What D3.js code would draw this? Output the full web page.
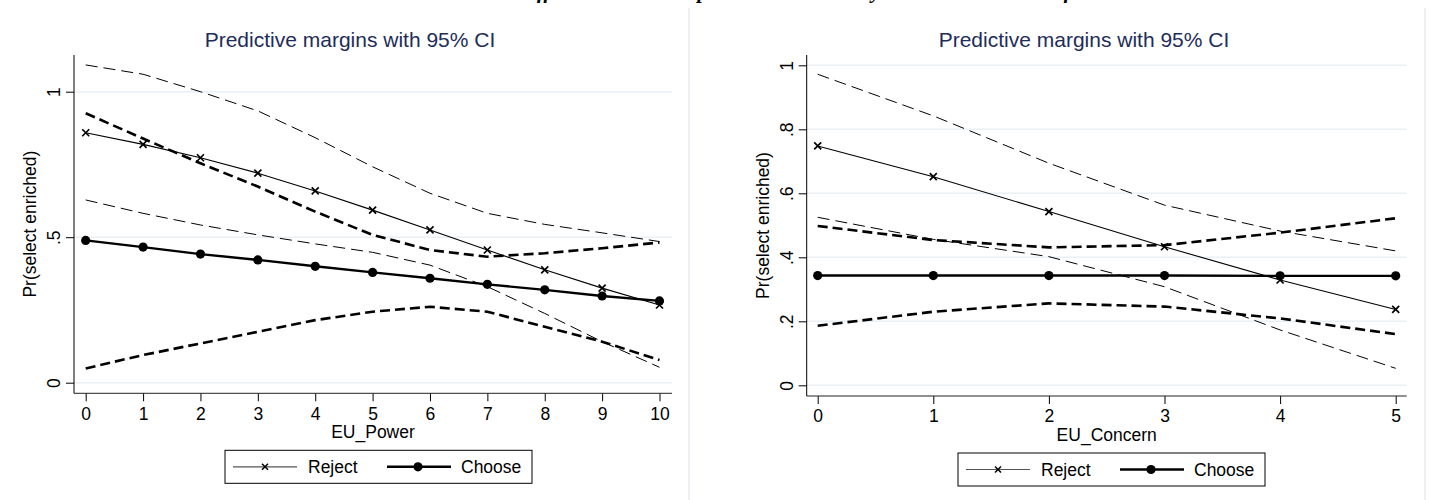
<!DOCTYPE html>
<html>
<head>
<meta charset="utf-8">
<script src="https://cdn.jsdelivr.net/npm/d3@7"></script>
<style>
  body { margin: 0; background: #fff; }
  svg { display: block; font-family: "Liberation Sans", Arial, sans-serif; }
</style>
</head>
<body>
<script>
// ---- data ----
const powerX = [0, 1, 2, 3, 4, 5, 6, 7, 8, 9, 10];
const powerReject   = [0.859, 0.819, 0.773, 0.720, 0.659, 0.593, 0.525, 0.456, 0.388, 0.325, 0.267];
const powerRejectLo = [0.628, 0.582, 0.542, 0.508, 0.477, 0.448, 0.404, 0.330, 0.238, 0.141, 0.053];
const powerRejectHi = [1.092, 1.060, 1.000, 0.934, 0.842, 0.742, 0.651, 0.582, 0.544, 0.515, 0.485];
const powerChoose   = [0.489, 0.466, 0.442, 0.422, 0.400, 0.379, 0.359, 0.338, 0.319, 0.298, 0.281];
const powerChooseLo = [0.049, 0.095, 0.135, 0.175, 0.215, 0.244, 0.261, 0.244, 0.192, 0.141, 0.078];
const powerChooseHi = [0.926, 0.839, 0.754, 0.674, 0.588, 0.508, 0.456, 0.433, 0.445, 0.462, 0.482];
const powerYTicks = [0, 0.5, 1];
const powerYLabels = ["0", ".5", "1"];

const concernX = [0, 1, 2, 3, 4, 5];
const concernReject   = [0.748, 0.652, 0.543, 0.433, 0.329, 0.237];
const concernRejectLo = [0.525, 0.456, 0.402, 0.308, 0.173, 0.053];
const concernRejectHi = [0.972, 0.842, 0.694, 0.563, 0.482, 0.420];
const concernChoose   = [0.343, 0.343, 0.343, 0.343, 0.342, 0.342];
const concernChooseLo = [0.186, 0.230, 0.256, 0.246, 0.209, 0.160];
const concernChooseHi = [0.498, 0.454, 0.431, 0.438, 0.477, 0.522];
const concernYTicks = [0, 0.2, 0.4, 0.6, 0.8, 1];
const concernYLabels = ["0", ".2", ".4", ".6", ".8", "1"];

const seriesNames = ["Reject", "Choose"];
const panelTitle = "Predictive margins with 95% CI";
const yTitle = "Pr(select enriched)";
const caption = "Effects on the main predicted outcome by EU Attitude and the frame";

const W = 1435, H = 500;
const svg = d3.select('body').append('svg')
  .attr('width', W)
  .attr('height', H);

// caption of the page above the figures, only its lowest part shows
const cap = svg.append('text')
  .attr('x', 520).attr('y', -2)
  .style('font-family', '"Liberation Serif", "Times New Roman", serif')
  .style('font-weight', 'bold').style('font-style', 'italic')
  .style('font-size', '21px')
  .text(caption);
// line the "ff" up with where it sits in the page
const ffX = cap.node().getStartPositionOfChar(1).x;
cap.attr('x', 520 + (537 - ffX));

// light borders of the two graph images
[689, 1425].forEach(function(x){
  svg.append('line')
    .attr('x1', x).attr('x2', x).attr('y1', 8).attr('y2', H)
    .attr('stroke', '#e6ebf0').attr('stroke-width', 1.5);
});

function drawPanel(cfg){
  const g = svg.append('g');
  const xScale = d3.scaleLinear().domain(d3.extent(cfg.xs)).range([cfg.x0, cfg.x1]);
  const yScale = d3.scaleLinear().domain([0, 1]).range([cfg.y0, cfg.y1]);

  // grid
  g.selectAll('.grid').data(cfg.yTicks).enter().append('line')
    .attr('x1', cfg.left).attr('x2', cfg.right)
    .attr('y1', d => yScale(d)).attr('y2', d => yScale(d))
    .attr('stroke', '#eaf0f4').attr('stroke-width', 1.5);

  // title
  g.append('text')
    .attr('x', cfg.titleX).attr('y', 47)
    .attr('text-anchor', 'middle')
    .attr('fill', '#1e2d5a')
    .style('font-size', '21px')
    .text(panelTitle);

  // axes
  const yAxis = d3.axisLeft(yScale).tickValues(cfg.yTicks)
    .tickFormat((d, i) => cfg.yLabels[i]).tickSize(8);
  const ya = g.append('g').attr('transform', `translate(${cfg.left},0)`).call(yAxis);
  ya.select('.domain').remove();
  ya.selectAll('text')
    .attr('x', null).attr('dy', '0.36em')
    .attr('text-anchor', 'middle')
    .attr('transform', 'translate(-20,0) rotate(-90)')
    .style('font-size', '17.5px').attr('fill', '#000');

  const xAxis = d3.axisBottom(xScale).tickValues(cfg.xs)
    .tickFormat(d3.format('d')).tickSize(8).tickPadding(6);
  const xa = g.append('g').attr('transform', `translate(0,${cfg.bottom})`).call(xAxis);
  xa.select('.domain').remove();
  xa.selectAll('text').style('font-size', '17.5px').attr('fill', '#000');

  g.append('line').attr('x1', cfg.left).attr('x2', cfg.left)
    .attr('y1', cfg.top).attr('y2', cfg.bottom).attr('stroke', '#000');
  g.append('line').attr('x1', cfg.left).attr('x2', cfg.right)
    .attr('y1', cfg.bottom).attr('y2', cfg.bottom).attr('stroke', '#222');

  // axis titles
  g.append('text')
    .attr('transform', `translate(${cfg.left - 38},${(cfg.top + cfg.bottom) / 2}) rotate(-90)`)
    .attr('text-anchor', 'middle')
    .style('font-size', '17.5px')
    .text(yTitle);
  g.append('text')
    .attr('x', (cfg.left + cfg.right) / 2).attr('y', cfg.bottom + 45)
    .attr('text-anchor', 'middle')
    .style('font-size', '17.5px')
    .text(cfg.xTitle);

  const line = d3.line().x(d => xScale(d[0])).y(d => yScale(d[1]));
  const pts = arr => cfg.xs.map((x, i) => [x, arr[i]]);

  // confidence bands
  [cfg.rLo, cfg.rHi].forEach(function(a){
    g.append('path').datum(pts(a)).attr('d', line)
      .attr('fill', 'none').attr('stroke', '#000').attr('stroke-width', 1)
      .attr('stroke-dasharray', '12,6');
  });
  [cfg.cLo, cfg.cHi].forEach(function(a){
    g.append('path').datum(pts(a)).attr('d', line)
      .attr('fill', 'none').attr('stroke', '#000').attr('stroke-width', 2.6)
      .attr('stroke-dasharray', '10,5');
  });

  // reject
  g.append('path').datum(pts(cfg.reject)).attr('d', line)
    .attr('fill', 'none').attr('stroke', '#000').attr('stroke-width', 1.1);
  g.selectAll('.xmark').data(pts(cfg.reject)).enter().append('path')
    .attr('d', 'M-3.5,-3.5L3.5,3.5M-3.5,3.5L3.5,-3.5')
    .attr('transform', d => `translate(${xScale(d[0])},${yScale(d[1])})`)
    .attr('stroke', '#000').attr('stroke-width', 1.7);

  // choose
  g.append('path').datum(pts(cfg.choose)).attr('d', line)
    .attr('fill', 'none').attr('stroke', '#000').attr('stroke-width', 2.4);
  g.selectAll('.dot').data(pts(cfg.choose)).enter().append('circle')
    .attr('cx', d => xScale(d[0])).attr('cy', d => yScale(d[1]))
    .attr('r', 4.6).attr('fill', '#000');

  // legend
  const lg = g.append('g').attr('transform', `translate(${cfg.legendX},${cfg.bottom + 57})`);
  lg.append('rect').attr('x', 0).attr('y', 0).attr('width', 307).attr('height', 33)
    .attr('fill', '#fff').attr('stroke', '#000').attr('stroke-width', 1);
  lg.append('line').attr('x1', 8).attr('x2', 72).attr('y1', 16.5).attr('y2', 16.5)
    .attr('stroke', '#555').attr('stroke-width', 1.2);
  lg.append('path').attr('d', 'M-3,-3L3,3M-3,3L3,-3')
    .attr('transform', 'translate(40,16.5)').attr('stroke', '#000').attr('stroke-width', 1.5);
  lg.append('text').attr('x', 83).attr('y', 23).style('font-size', '17.5px').text(seriesNames[0]);
  lg.append('line').attr('x1', 162).attr('x2', 226).attr('y1', 16.5).attr('y2', 16.5)
    .attr('stroke', '#000').attr('stroke-width', 2.4);
  lg.append('circle').attr('cx', 193).attr('cy', 16.5).attr('r', 4.6).attr('fill', '#000');
  lg.append('text').attr('x', 236).attr('y', 23).style('font-size', '17.5px').text(seriesNames[1]);
}

drawPanel({
  xs: powerX, reject: powerReject, rLo: powerRejectLo, rHi: powerRejectHi,
  choose: powerChoose, cLo: powerChooseLo, cHi: powerChooseHi,
  yTicks: powerYTicks, yLabels: powerYLabels, xTitle: 'EU_Power',
  x0: 85.7, x1: 659.5, y0: 382.7, y1: 91.7,
  left: 74, right: 672, top: 55, bottom: 393.3,
  titleX: 350, legendX: 225
});

drawPanel({
  xs: concernX, reject: concernReject, rLo: concernRejectLo, rHi: concernRejectHi,
  choose: concernChoose, cLo: concernChooseLo, cHi: concernChooseHi,
  yTicks: concernYTicks, yLabels: concernYLabels, xTitle: 'EU_Concern',
  x0: 817.7, x1: 1395.7, y0: 385.3, y1: 65.3,
  left: 806.7, right: 1406.7, top: 55, bottom: 396,
  titleX: 1084, legendX: 958
});
</script>
</body>
</html>
